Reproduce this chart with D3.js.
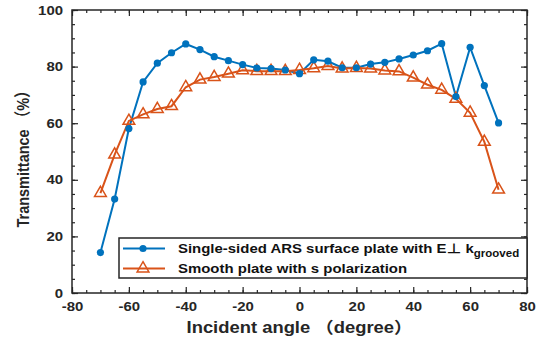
<!DOCTYPE html>
<html>
<head>
<meta charset="utf-8">
<script src="https://cdn.jsdelivr.net/npm/d3@7"></script>
<style>
  body { margin: 0; background: #fff; }
  text { font-family: "Liberation Sans", Arial, "Noto Sans CJK SC", sans-serif; font-weight: bold; }
</style>
</head>
<body>
<div id="chart"></div>
<script>
const angles = [-70, -65, -60, -55, -50, -45, -40, -35, -30, -25, -20, -15, -10, -5, 0,
  5, 10, 15, 20, 25, 30, 35, 40, 45, 50, 55, 60, 65, 70];
const grooved = [14.3, 33.2, 58.1, 74.6, 81.2, 84.9, 88.0, 86.0, 83.5, 82.1, 80.7, 79.5, 79.3, 78.8, 77.5,
  82.4, 81.9, 79.6, 79.6, 80.9, 81.5, 82.7, 84.1, 85.6, 88.1, 69.4, 86.8, 73.3, 60.1];
const smooth = [35.3, 48.9, 60.8, 63.1, 65.0, 66.0, 72.7, 75.4, 76.3, 77.5, 78.7, 78.4, 78.4, 78.4, 78.8,
  79.4, 80.2, 79.3, 79.5, 79.3, 78.6, 78.3, 76.1, 73.6, 71.8, 68.6, 63.7, 53.4, 36.5];
const xTicks = [-80, -60, -40, -20, 0, 20, 40, 60, 80];
const yTicks = [0, 20, 40, 60, 80, 100];
const seriesNames = ['Single-sided ARS surface plate with E\u22a5 k', 'Smooth plate with s polarization'];

const W = 544, H = 341;
const margin = { top: 10, right: 17, bottom: 48, left: 72 };
const width = W - margin.left - margin.right;
const height = H - margin.top - margin.bottom;

const blue = '#0072BD', orange = '#D95319', axisCol = '#262626';
const SX = 1.15; // the picture's text is a little wider than it is tall

const svg = d3.select('#chart').append('svg')
  .attr('width', W).attr('height', H);
const g = svg.append('g').attr('transform', `translate(${margin.left},${margin.top})`);

const x = d3.scaleLinear().domain([-80, 80]).range([0, width]);
const y = d3.scaleLinear().domain([0, 100]).range([height, 0]);

const minorX = d3.range(-80, 81, 5);
const minorY = d3.range(0, 101, 5);
const plain = d => String(d); // plain hyphen minus, like the original

// widen a text horizontally around its own x
function stretch(sel) {
  sel.each(function () {
    const t = d3.select(this);
    const tx = +t.attr('x') || 0;
    t.attr('transform', `translate(${tx * (1 - SX)},0) scale(${SX},1)`);
  });
}

// Axes (ticks inward, on all four sides)
function styleAxis(sel) {
  sel.select('.domain').remove();
  sel.selectAll('line').attr('stroke', axisCol).attr('stroke-width', 1.2);
  sel.selectAll('text').attr('fill', axisCol).style('font-size', '13px').call(stretch);
}
g.append('g').attr('transform', `translate(0,${height})`)
  .call(d3.axisBottom(x).tickValues(minorX).tickSize(-3).tickFormat(''))
  .call(styleAxis);
g.append('g').attr('transform', `translate(0,${height})`)
  .call(d3.axisBottom(x).tickValues(xTicks).tickSize(-6).tickPadding(9).tickFormat(plain))
  .call(styleAxis);
g.append('g')
  .call(d3.axisTop(x).tickValues(minorX).tickSize(-3).tickFormat(''))
  .call(styleAxis);
g.append('g')
  .call(d3.axisTop(x).tickValues(xTicks).tickSize(-6).tickFormat(''))
  .call(styleAxis);
g.append('g')
  .call(d3.axisLeft(y).tickValues(minorY).tickSize(-3).tickFormat(''))
  .call(styleAxis);
g.append('g')
  .call(d3.axisLeft(y).tickValues(yTicks).tickSize(-6).tickPadding(9).tickFormat(plain))
  .call(styleAxis);
g.append('g').attr('transform', `translate(${width},0)`)
  .call(d3.axisRight(y).tickValues(minorY).tickSize(-3).tickFormat(''))
  .call(styleAxis);
g.append('g').attr('transform', `translate(${width},0)`)
  .call(d3.axisRight(y).tickValues(yTicks).tickSize(-6).tickFormat(''))
  .call(styleAxis);

g.append('rect').attr('width', width).attr('height', height)
  .attr('fill', 'none').attr('stroke', axisCol).attr('stroke-width', 1.5);

// Lines
const line = d3.line().x((d, i) => x(angles[i])).y(d => y(d));

g.append('path').datum(grooved).attr('d', line)
  .attr('fill', 'none').attr('stroke', blue).attr('stroke-width', 2);
g.append('path').datum(smooth).attr('d', line)
  .attr('fill', 'none').attr('stroke', orange).attr('stroke-width', 2);

const tri = d3.symbol().type(d3.symbolTriangle).size(60);

g.selectAll('.tri').data(smooth).enter().append('path')
  .attr('transform', (d, i) => `translate(${x(angles[i])},${y(d)})`)
  .attr('d', tri)
  .attr('fill', 'none').attr('stroke', orange).attr('stroke-width', 1.5);

g.selectAll('.dot').data(grooved).enter().append('circle')
  .attr('cx', (d, i) => x(angles[i])).attr('cy', d => y(d))
  .attr('r', 3.6).attr('fill', blue);

// Legend
const lgX = 119 - margin.left, lgY = 238 - margin.top;
const lg = g.append('g').attr('transform', `translate(${lgX},${lgY})`);
const lgW = width - lgX, lgH = 40;
lg.append('rect').attr('width', lgW).attr('height', lgH)
  .attr('fill', '#fff').attr('stroke', axisCol).attr('stroke-width', 1.5);

[0, 1].forEach(i => {
  const yy = 10.5 + i * 20;
  lg.append('line').attr('x1', 4).attr('x2', 46).attr('y1', yy).attr('y2', yy)
    .attr('stroke', i === 0 ? blue : orange).attr('stroke-width', 2);
  if (i === 0) {
    lg.append('circle').attr('cx', 24).attr('cy', yy).attr('r', 3.6).attr('fill', blue);
  } else {
    lg.append('path').attr('transform', `translate(24,${yy})`).attr('d', tri)
      .attr('fill', 'none').attr('stroke', orange).attr('stroke-width', 1.5);
  }
  const t = lg.append('text').attr('x', 59).attr('y', yy + 4.5)
    .attr('fill', '#111').style('font-size', '13px').text(seriesNames[i]);
  if (i === 0) {
    t.append('tspan').attr('dy', 4).style('font-size', '10px').text('grooved');
  }
  t.call(stretch);
});

// Axis titles
svg.append('text')
  .attr('x', margin.left + width / 2).attr('y', H - 8)
  .attr('text-anchor', 'middle').attr('fill', axisCol).style('font-size', '16px')
  .text('Incident angle \uff08degree\uff09')
  .call(stretch);
svg.append('text')
  .attr('transform', `translate(29,${margin.top + height / 2 + 4}) scale(${SX},1) rotate(-90)`)
  .attr('text-anchor', 'middle').attr('fill', axisCol).style('font-size', '14.5px')
  .text('Transmittance \uff08%\uff09');
</script>
</body>
</html>
